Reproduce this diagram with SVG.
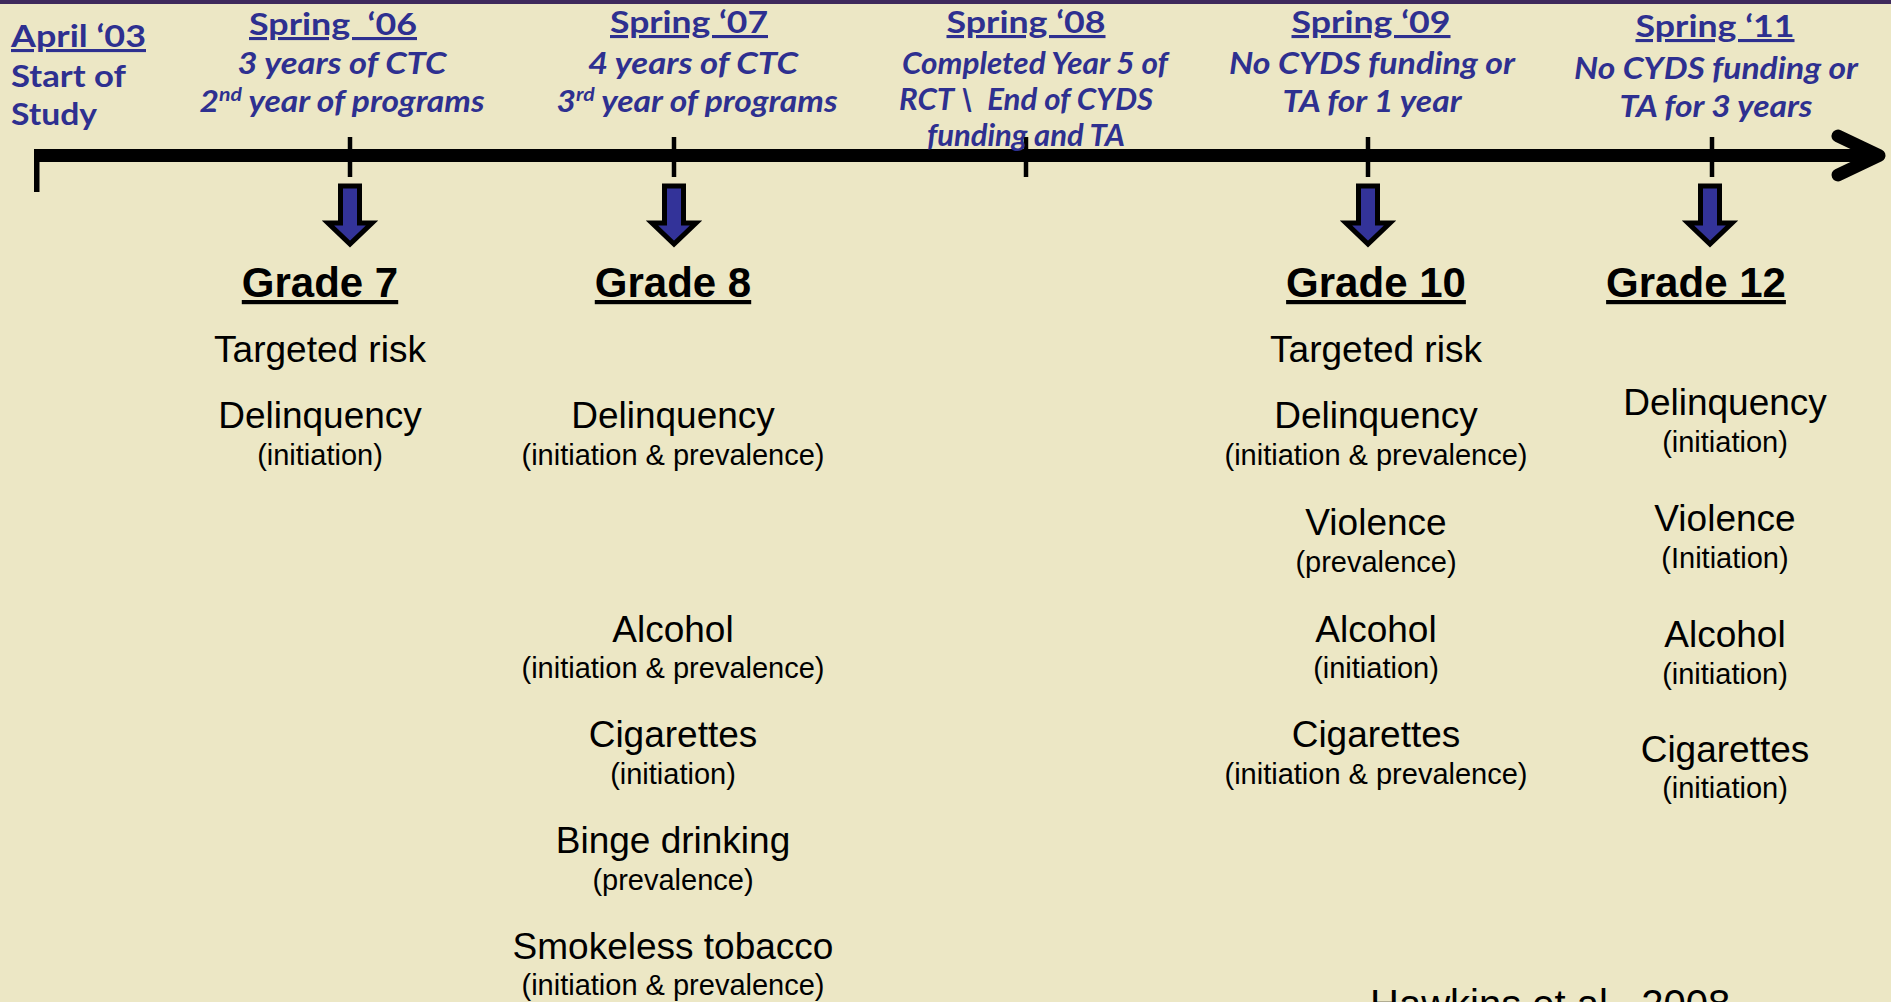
<svg xmlns="http://www.w3.org/2000/svg" width="1891" height="1002" viewBox="0 0 1891 1002">
<style>
.hd{font-family:Lato,"Open Sans",sans-serif;font-weight:bold;font-size:31px;fill:#2E3090;text-decoration:underline}
.lb{font-family:Lato,"Open Sans",sans-serif;font-weight:bold;font-size:31px;fill:#2E3090}
.it{font-family:Lato,"Open Sans",sans-serif;font-weight:bold;font-style:italic;font-size:30px;fill:#2E3090;text-anchor:middle}
.gr{font-family:"Liberation Sans",Arial,sans-serif;font-weight:bold;font-size:42px;fill:#000;text-anchor:middle;text-decoration:underline}
.m{font-family:"Liberation Sans",Arial,sans-serif;font-size:37px;fill:#000;text-anchor:middle}
.s{font-family:"Liberation Sans",Arial,sans-serif;font-size:29px;fill:#000;text-anchor:middle}
.c{text-anchor:middle}
.blk{fill:#333399;stroke:#000;stroke-width:5;stroke-linejoin:miter}
.tick{stroke:#000;stroke-width:4.5}
</style>
<defs>
<path id="blkArrow" class="blk" d="M -9.5 186 H 9.5 V 223 H 22 L 0 244 L -22 223 H -9.5 Z"/>
</defs>
<rect x="0" y="0" width="1891" height="1002" fill="#ECE7C5"/>
<rect x="0" y="0" width="1891" height="4" fill="#3F2A5C"/>

<g id="connectors">
<rect x="34" y="149" width="1846" height="13" fill="#000"/>
<rect x="34" y="149" width="5.5" height="43" fill="#000"/>
<polyline points="1838,136 1879,155.5 1838,175" fill="none" stroke="#000" stroke-width="13" stroke-linecap="round" stroke-linejoin="round"/>
<line class="tick" x1="350" y1="137" x2="350" y2="177"/>
<line class="tick" x1="674" y1="137" x2="674" y2="177"/>
<line class="tick" x1="1026" y1="137" x2="1026" y2="177"/>
<line class="tick" x1="1368" y1="137" x2="1368" y2="177"/>
<line class="tick" x1="1712" y1="137" x2="1712" y2="177"/>
<use href="#blkArrow" x="350"/>
<use href="#blkArrow" x="674"/>
<use href="#blkArrow" x="1368"/>
<use href="#blkArrow" x="1710"/>
</g>

<g id="april03">
<text class="hd" x="11" y="47" textLength="135" lengthAdjust="spacingAndGlyphs">April ‘03</text>
<text class="lb" x="11" y="87" textLength="115" lengthAdjust="spacingAndGlyphs">Start of</text>
<text class="lb" x="11" y="125" textLength="86" lengthAdjust="spacingAndGlyphs">Study</text>
</g>
<g id="spring06">
<text class="hd c" x="333" y="35" textLength="168" lengthAdjust="spacingAndGlyphs">Spring&#160; ‘06</text>
<text class="it" x="342" y="74" textLength="209" lengthAdjust="spacingAndGlyphs">3 years of CTC</text>
<text class="it" x="342" y="112" textLength="285" lengthAdjust="spacingAndGlyphs">2<tspan font-size="19" dy="-11">nd</tspan><tspan dy="11"> year of programs</tspan></text>
</g>
<g id="spring07">
<text class="hd c" x="689" y="33" textLength="158" lengthAdjust="spacingAndGlyphs">Spring ‘07</text>
<text class="it" x="693" y="74" textLength="210" lengthAdjust="spacingAndGlyphs">4 years of CTC</text>
<text class="it" x="697" y="112" textLength="281" lengthAdjust="spacingAndGlyphs">3<tspan font-size="19" dy="-11">rd</tspan><tspan dy="11"> year of programs</tspan></text>
</g>
<g id="spring08">
<text class="hd c" x="1026" y="33" textLength="159" lengthAdjust="spacingAndGlyphs">Spring ‘08</text>
<text class="it" x="1035" y="74" textLength="266" lengthAdjust="spacingAndGlyphs">Completed Year 5 of</text>
<text class="it" x="1026" y="110" textLength="254" lengthAdjust="spacingAndGlyphs">RCT \&#160; End of CYDS</text>
<text class="it" x="1026" y="146" textLength="198" lengthAdjust="spacingAndGlyphs">funding and TA</text>
</g>
<g id="spring09">
<text class="hd c" x="1371" y="33" textLength="159" lengthAdjust="spacingAndGlyphs">Spring ‘09</text>
<text class="it" x="1372" y="74" textLength="286" lengthAdjust="spacingAndGlyphs">No CYDS funding or</text>
<text class="it" x="1372" y="112" textLength="179" lengthAdjust="spacingAndGlyphs">TA for 1 year</text>
</g>
<g id="spring11">
<text class="hd c" x="1715" y="37" textLength="159" lengthAdjust="spacingAndGlyphs">Spring ‘11</text>
<text class="it" x="1716" y="79" textLength="284" lengthAdjust="spacingAndGlyphs">No CYDS funding or</text>
<text class="it" x="1716" y="117" textLength="193" lengthAdjust="spacingAndGlyphs">TA for 3 years</text>
</g>

<g id="grade7">
<text class="gr" x="320" y="297">Grade 7</text>
<text class="m" x="320" y="362">Targeted risk</text>
<text class="m" x="320" y="428">Delinquency</text>
<text class="s" x="320" y="465">(initiation)</text>
</g>
<g id="grade8">
<text class="gr" x="673" y="297">Grade 8</text>
<text class="m" x="673" y="428">Delinquency</text>
<text class="s" x="673" y="465">(initiation &amp; prevalence)</text>
<text class="m" x="673" y="642">Alcohol</text>
<text class="s" x="673" y="678">(initiation &amp; prevalence)</text>
<text class="m" x="673" y="747">Cigarettes</text>
<text class="s" x="673" y="784">(initiation)</text>
<text class="m" x="673" y="853">Binge drinking</text>
<text class="s" x="673" y="890">(prevalence)</text>
<text class="m" x="673" y="959">Smokeless tobacco</text>
<text class="s" x="673" y="995">(initiation &amp; prevalence)</text>
</g>
<g id="grade10">
<text class="gr" x="1376" y="297">Grade 10</text>
<text class="m" x="1376" y="362">Targeted risk</text>
<text class="m" x="1376" y="428">Delinquency</text>
<text class="s" x="1376" y="465">(initiation &amp; prevalence)</text>
<text class="m" x="1376" y="535">Violence</text>
<text class="s" x="1376" y="572">(prevalence)</text>
<text class="m" x="1376" y="642">Alcohol</text>
<text class="s" x="1376" y="678">(initiation)</text>
<text class="m" x="1376" y="747">Cigarettes</text>
<text class="s" x="1376" y="784">(initiation &amp; prevalence)</text>
</g>
<g id="grade12">
<text class="gr" x="1696" y="297">Grade 12</text>
<text class="m" x="1725" y="415">Delinquency</text>
<text class="s" x="1725" y="452">(initiation)</text>
<text class="m" x="1725" y="531">Violence</text>
<text class="s" x="1725" y="568">(Initiation)</text>
<text class="m" x="1725" y="647">Alcohol</text>
<text class="s" x="1725" y="684">(initiation)</text>
<text class="m" x="1725" y="762">Cigarettes</text>
<text class="s" x="1725" y="798">(initiation)</text>
</g>
<g id="citation">
<text x="1370" y="1018" font-family="Liberation Sans, Arial, sans-serif" font-size="40" fill="#000">Hawkins et al., 2008</text>
</g>
</svg>
